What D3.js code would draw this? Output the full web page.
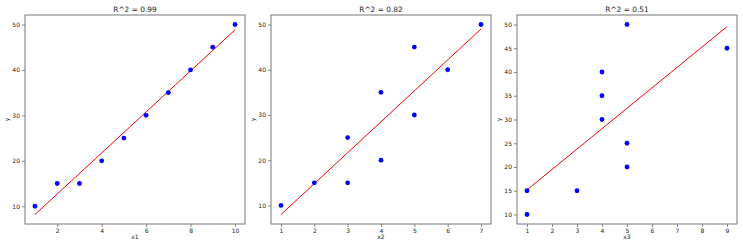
<!DOCTYPE html>
<html><head><meta charset="utf-8">
<script src="https://cdn.jsdelivr.net/npm/d3@7"></script>
<style>body{margin:0;background:#fff}svg{display:block}text{font-family:"DejaVu Sans",sans-serif;fill:#222}</style>
</head><body>
<svg id="c" width="743" height="248"></svg>
<script>
const yValues = [10, 15, 15, 20, 25, 30, 35, 40, 45, 50];
const x1Values = [1, 2, 3, 4, 5, 6, 7, 8, 9, 10];
const x2Values = [1, 2, 3, 4, 3, 5, 4, 6, 5, 7];
const x3Values = [1, 1, 3, 5, 5, 4, 4, 4, 9, 5];
const xLabels = ["x1", "x2", "x3"];
const xTicks = [[2, 4, 6, 8, 10], [1, 2, 3, 4, 5, 6, 7], [1, 2, 3, 4, 5, 6, 7, 8, 9]];
const yTicks = [[10, 20, 30, 40, 50], [10, 20, 30, 40, 50], [10, 15, 20, 25, 30, 35, 40, 45, 50]];

const svg = d3.select("#c");
const panelLeft = [25, 271, 517];
const W = 220, plotTop = 15, plotBottom = 224;

function fit(xs, ys) {
  const mx = d3.mean(xs), my = d3.mean(ys);
  let sxy = 0, sxx = 0, syy = 0;
  xs.forEach((x, i) => { sxy += (x - mx) * (ys[i] - my); sxx += (x - mx) ** 2; syy += (ys[i] - my) ** 2; });
  const b = sxy / sxx, a = my - b * mx;
  return { a, b, r2: sxy * sxy / (sxx * syy) };
}
function padded(lo, hi) { const m = (hi - lo) * 0.05; return [lo - m, hi + m]; }

[x1Values, x2Values, x3Values].forEach((xs, k) => {
  const f = fit(xs, yValues);
  const xmin = d3.min(xs), xmax = d3.max(xs);
  const lineY = [f.a + f.b * xmin, f.a + f.b * xmax];
  const allY = yValues.concat(lineY);
  const x = d3.scaleLinear().domain(padded(xmin, xmax)).range([panelLeft[k], panelLeft[k] + W]);
  const y = d3.scaleLinear().domain(padded(d3.min(allY), d3.max(allY))).range([plotBottom, plotTop]);
  const g = svg.append("g");

  const xa = g.append("g").attr("transform", `translate(0,${plotBottom})`)
    .call(d3.axisBottom(x).tickValues(xTicks[k]).tickFormat(d3.format("d")).tickSize(3).tickPadding(2));
  const ya = g.append("g").attr("transform", `translate(${panelLeft[k]},0)`)
    .call(d3.axisLeft(y).tickValues(yTicks[k]).tickFormat(d3.format("d")).tickSize(3).tickPadding(2));
  [xa, ya].forEach(a => {
    a.select(".domain").remove();
    a.selectAll("line").attr("stroke", "#555").attr("stroke-width", 0.7);
    a.selectAll("text").attr("font-size", 6).attr("fill", "#333").attr("font-family", "DejaVu Sans");
  });

  g.append("line").attr("x1", x(xmin)).attr("y1", y(lineY[0])).attr("x2", x(xmax)).attr("y2", y(lineY[1]))
    .attr("stroke", "#ff0000").attr("stroke-width", 1);

  g.selectAll("circle").data(xs.map((v, i) => [v, yValues[i]])).join("circle")
    .attr("cx", d => x(d[0])).attr("cy", d => y(d[1])).attr("r", 2.4).attr("fill", "#0000ff");

  g.append("rect").attr("x", panelLeft[k]).attr("y", plotTop).attr("width", W).attr("height", plotBottom - plotTop)
    .attr("fill", "none").attr("stroke", "#777").attr("stroke-width", 1);

  g.append("text").attr("x", panelLeft[k] + W / 2).attr("y", 12).attr("text-anchor", "middle")
    .attr("font-size", 7.4).text("R^2 = " + f.r2.toFixed(2));
  g.append("text").attr("x", panelLeft[k] + W / 2).attr("y", 239).attr("text-anchor", "middle")
    .attr("font-size", 6).attr("fill", "#333").text(xLabels[k]);
  g.append("text").attr("transform", `translate(${panelLeft[k] - 16},${(plotTop + plotBottom) / 2}) rotate(-90)`)
    .attr("text-anchor", "middle").attr("font-size", 6).attr("fill", "#333").text("y");
});
</script>
</body></html>
